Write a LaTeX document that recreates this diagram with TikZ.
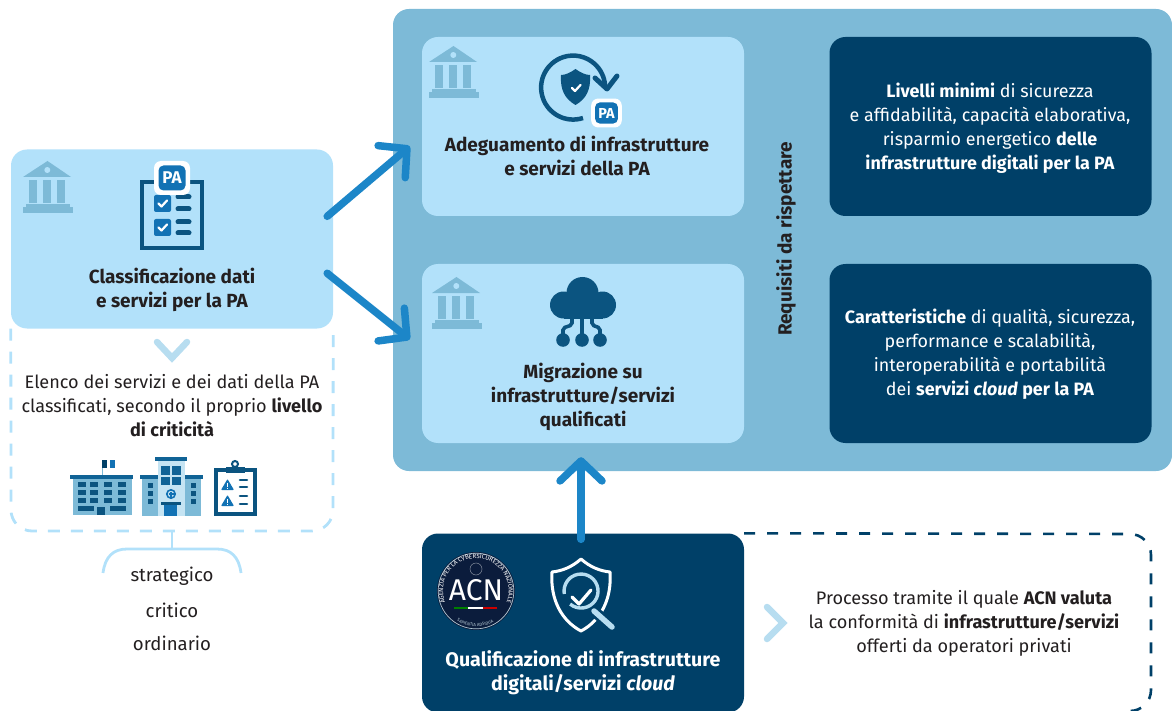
\documentclass[tikz,border=0pt]{standalone}
\usepackage{fontspec}
\setmainfont{Fira Sans}
\usetikzlibrary{positioning, arrows.meta, decorations.text}

\definecolor{lightblue}{HTML}{B2E1FA}
\definecolor{midblue}{HTML}{7DBAD7}
\definecolor{navy}{HTML}{004068}
\definecolor{iconblue}{HTML}{0B5480}
\definecolor{brightblue}{HTML}{1C86C8}
\definecolor{badgeblue}{HTML}{1272B4}
\definecolor{paleblue}{HTML}{B7DDF0}
\definecolor{inktext}{HTML}{231F20}
\definecolor{logoblue}{HTML}{0B1C3C}

\tikzset{
  panel/.style={rectangle,rounded corners=16pt,minimum width=322pt,minimum height=179pt,inner sep=0pt},
  lightbox/.style={panel,fill=lightblue},
  darkbox/.style={panel,fill=navy},
  title/.style={align=center,font=\fontsize{19}{24}\selectfont\bfseries,text=inktext,inner sep=0pt},
  darktext/.style={align=center,font=\fontsize{17.9}{24}\selectfont,text=white,inner sep=0pt},
  plain/.style={align=center,font=\fontsize{18.1}{24}\selectfont,text=inktext,inner sep=0pt},
  level/.style={font=\fontsize{18.6}{20}\selectfont,text=inktext,inner sep=0pt},
  bigarrow/.style={line width=7.5pt,line cap=round,brightblue,-{Straight Barb[length=20pt,width=42pt,line width=7.5pt,round]}},
  chevron/.style={line width=6.5pt,line cap=round,paleblue},
  pics/bank/.style={code={
    \fill[midblue] (0,16) -- (24.5,0) -- (48,16) -- cycle;
    \fill[lightblue] (24.3,9) circle (3);
    \foreach \cx in {6,20,34} \fill[midblue] (\cx,19) rectangle ++(8,23);
    \fill[midblue] (3,43) rectangle (47,46);
    \fill[midblue] (0,46) rectangle (50,52);
  }},
  pics/pabadge/.style={code={
    \fill[white,rounded corners=7pt] (-18,-17) rectangle (18,17);
    \fill[badgeblue,rounded corners=5pt] (-13.5,-12.5) rectangle (13.5,12.5);
    \node[inner sep=0pt,text=white,transform shape,font=\fontsize{17}{17}\selectfont\bfseries] (pa) at (0,0) {PA};
  }},
  pics/tick/.style={code={
    \draw[white,line width=2.2pt,line cap=round,line join=round] (-4,0) -- (-1,3) -- (4.5,-3);
  }},
}

\begin{document}
\begin{tikzpicture}[x=1pt,y=-1pt,on grid]
\useasboundingbox (0,0) rectangle (1172,711);

% background and boxes
\node[rectangle,rounded corners=16pt,fill=midblue,minimum width=779pt,minimum height=462pt,inner sep=0pt] (reqarea) at (782.5,240) {};
\node[lightbox] (adeg) at (583,126.5) {};
\node[lightbox] (migr) [below=227pt of adeg] {};
\node[darkbox] (livelli) [right=407.5pt of adeg] {};
\node[darkbox] (caratt) [below=227pt of livelli] {};
\node[lightbox] (classif) at (172,239) {};
\node[darkbox] (qualif) [below=496.5pt of adeg] {};

% dashed frames
\draw[lightblue,line width=2.8pt,dash pattern=on 12pt off 11pt] (classif.south west) -- (11,510) arc[start angle=180,end angle=90,radius=21] -- (312,531) arc[start angle=90,end angle=0,radius=21] -- (classif.south east);
\draw[navy,line width=2.6pt,dash pattern=on 11pt off 12pt] (qualif.north east) -- (1130,534) arc[start angle=-90,end angle=0,radius=21] -- (1151,690) arc[start angle=0,end angle=90,radius=21];

% texts
\node[title] (classiftext) at (172,290) {Classificazione dati\\e servizi per la PA};
\node[title] (adegtext) at (577,156) {Adeguamento di infrastrutture\\e servizi della PA};
\node[title] (migrtext) at (583,397) {Migrazione su\\infrastrutture/servizi\\qualificati};
\node[title,rotate=90] (requisiti) at (786,239) {Requisiti da rispettare};
\node[title,text=white,font=\fontsize{19.6}{24}\selectfont\bfseries] (qualiftext) at (583,673) {Qualificazione di infrastrutture\\digitali/servizi \textit{cloud}};
\node[darktext] (livellitext) at (990,128) {\textbf{Livelli minimi} di sicurezza\\e affidabilità, capacità elaborativa,\\risparmio energetico \textbf{delle}\\\textbf{infrastrutture digitali per la PA}};
\node[darktext] (caratttext) at (990,354) {\textbf{Caratteristiche} di qualità, sicurezza,\\performance e scalabilità,\\interoperabilità e portabilità\\dei \textbf{servizi \textit{cloud} per la PA}};
\node[plain] (elenco) at (172,406) {Elenco dei servizi e dei dati della PA\\classificati, secondo il proprio \textbf{livello}\\\textbf{di criticità}};
\node[plain] (processo) at (964,623) {Processo tramite il quale \textbf{ACN valuta}\\la conformità di \textbf{infrastrutture/servizi}\\offerti da operatori privati};
\node[level] (strategico) at (172,576) {strategico};
\node[level] (critico) at (172,610) {critico};
\node[level] (ordinario) at (172,643) {ordinario};

% arrows
\draw[bigarrow] ([xshift=-6pt]classif.8.5) -- ([xshift=-12pt]adeg.187.3);
\draw[bigarrow] ([xshift=-6pt]classif.-12.3) -- ([xshift=-12pt]migr.175.2);
\draw[bigarrow] ([xshift=-2pt,yshift=-6pt]qualif.north) -- ([xshift=-2pt,yshift=-14pt]migr.south);
\draw[chevron] (157,342) -- (172,358) -- (187,342);
\draw[chevron] (767,607) -- (783,623) -- (767,639);

% brace
\coordinate (bracetop) at (172,531);
\draw[lightblue,line width=2.8pt] (bracetop) -- (172,549);
\draw[lightblue,line width=2.8pt] (103,573) .. controls (105,557) and (113,549) .. (127,549) -- (217,549) .. controls (231,549) and (239,557) .. (241,573);

% bank icons
\pic at (23,161) {bank};
\pic at (429,46) {bank};
\pic at (432,277) {bank};

% clipboard with badge
\draw[iconblue,line width=4pt] (142,182) rectangle (202,248);
\foreach \cy in {195,219} {
  \fill[badgeblue,rounded corners=2pt] (154,\cy) rectangle ++(17,17);
  \pic at (162.5,\cy+8.5) {tick};
}
\foreach \cy in {197,209,222,233} \draw[iconblue,line width=5pt,line cap=round] (178,\cy) -- (189,\cy);
\pic at (172,178) {pabadge};

% shield with cycle
\draw[iconblue,line width=4.5pt] (583,118) arc[start angle=72,end angle=356,radius=32];
\draw[iconblue,line width=5pt,line cap=round,line join=round] (595,78) -- (607,89) -- (617,76);
\fill[iconblue] (575.5,69) .. controls (581,73) and (586,75) .. (590,75) .. controls (591,90) and (586,99) .. (575.5,105) .. controls (565,99) and (560,90) .. (561,75) .. controls (565,75) and (570,73) .. (575.5,69) -- cycle;
\pic at (576,88) {tick};
\pic[scale=.85] at (606.5,113) {pabadge};

% cloud
\fill[iconblue] (582.5,293) circle (16);
\fill[iconblue] (563.5,305) circle (13.5);
\fill[iconblue] (602.5,305) circle (13.5);
\fill[iconblue] (563.5,298) rectangle (602.5,318.5);
\foreach \cx in {563,582,600} \fill[iconblue] (\cx,340) circle (6.8);
\draw[iconblue,line width=3.6pt] (582,318) -- (582,340);
\draw[iconblue,line width=3.6pt,rounded corners=2pt] (572,318) -- (572,325) -- (563,328) -- (563,340);
\draw[iconblue,line width=3.6pt,rounded corners=2pt] (592,318) -- (592,325) -- (600,328) -- (600,340);

% school
\fill[midblue] (73,479) rectangle (132,515);
\fill[iconblue!70!brightblue] (70,475) rectangle (133,479);
\draw[midblue,line width=1pt] (102,460) -- (102,475);
\fill[navy] (102,460) rectangle (107,468);
\fill[badgeblue] (110,460) rectangle (115,468);
\foreach \cx in {78,90,104,118} \foreach \cy in {482,490,498} \fill[iconblue] (\cx,\cy) rectangle ++(8,5);
\fill[iconblue] (78,506) rectangle (94,511);
\fill[iconblue] (110,506) rectangle (126,511);
\fill[iconblue] (97,507) rectangle (105,515);

% hospital
\fill[midblue] (142,479) rectangle (201,516);
\fill[paleblue!80!white] (158,461) rectangle (185,516);
\fill[iconblue!70!brightblue] (155,457) rectangle (187,461);
\fill[iconblue!70!brightblue] (140,475) rectangle (158,479);
\fill[iconblue!70!brightblue] (185,475) rectangle (203,479);
\fill[iconblue!70!brightblue] (161,466) rectangle (170,475);
\fill[iconblue!70!brightblue] (172,466) rectangle (181,475);
\fill[iconblue!70!brightblue] (161,477) rectangle (170,485);
\fill[iconblue!70!brightblue] (172,477) rectangle (181,485);
\foreach \cy in {483,491,499} {
  \fill[iconblue] (148,\cy) rectangle ++(5,5);
  \fill[iconblue] (191,\cy) rectangle ++(5,5);
}
\draw[badgeblue,line width=1.6pt] (171,494) circle (4.2);
\draw[badgeblue,line width=1.2pt] (168.5,494) -- (173.5,494) (171,491.5) -- (171,496.5);
\fill[iconblue] (161,502) rectangle (181,505);
\fill[badgeblue] (164,505) rectangle (177,516);

% clipboard with warnings
\draw[iconblue,line width=3.4pt] (216,470) rectangle (255,514);
\fill[iconblue] (226,467) rectangle (245,473);
\draw[iconblue,line width=2pt] (235,464) circle (3);
\foreach \cy in {490,506} {
  \fill[badgeblue,rounded corners=0.8pt] (221,\cy) -- (227.5,\cy-11) -- (234,\cy) -- cycle;
  \fill[white] (227,\cy-7.5) rectangle ++(1.2,4.5);
  \fill[white] (227,\cy-2.2) rectangle ++(1.2,1.2);
}
\foreach \cy in {480,487,496,504} \draw[iconblue,line width=2.6pt,line cap=round] (240,\cy) -- (247,\cy);

% ACN logo
\fill[logoblue] (476,591) circle (39);
\draw[white!70!navy,line width=0.7pt] (476,591) circle (37.8);
\draw[white!50!logoblue,line width=0.5pt] (476,569) circle (6);
\path[decorate,decoration={text along path,text align=center,
  text={|\fontsize{6.2}{6.2}\selectfont\color{white}|AGENZIA PER LA CYBERSICUREZZA NAZIONALE}}]
  (445.7,604) arc[start angle=157,end angle=383,radius=32.8];
\path[decorate,decoration={text along path,text align=center,
  text={|\fontsize{4.4}{4.4}\selectfont\color{white!70!navy}|SAPIENTIA ADSIDUAS}}]
  (458,621.5) arc[start angle=120.5,end angle=59.5,radius=36];
\node[inner sep=0pt,text=white,font=\fontsize{30}{30}\selectfont] (acn) at (476,590) {ACN};
\fill[green!50!black] (454,606.5) rectangle (468,608.5);
\fill[white] (468,606.5) rectangle (483,608.5);
\fill[red!80!black] (483,606.5) rectangle (497,608.5);

% shield with magnifier
\draw[white,line width=3pt,line join=round] (581,559) .. controls (590,567) and (600,571) .. (610,572) .. controls (612,600) and (600,621) .. (581,631) .. controls (562,621) and (550,600) .. (552,572) .. controls (562,571) and (572,567) .. (581,559) -- cycle;
\draw[navy,line width=11pt] (594,611) -- (613,628);
\draw[paleblue,line width=3.4pt] (564.3,594) arc[start angle=170,end angle=490,radius=17];
\draw[paleblue,line width=5.5pt,line cap=round] (594,611) -- (612,627);
\draw[white,line width=3.2pt,line cap=round,line join=round] (572,597) -- (579,604) -- (591,590);
\end{tikzpicture}
\end{document}
